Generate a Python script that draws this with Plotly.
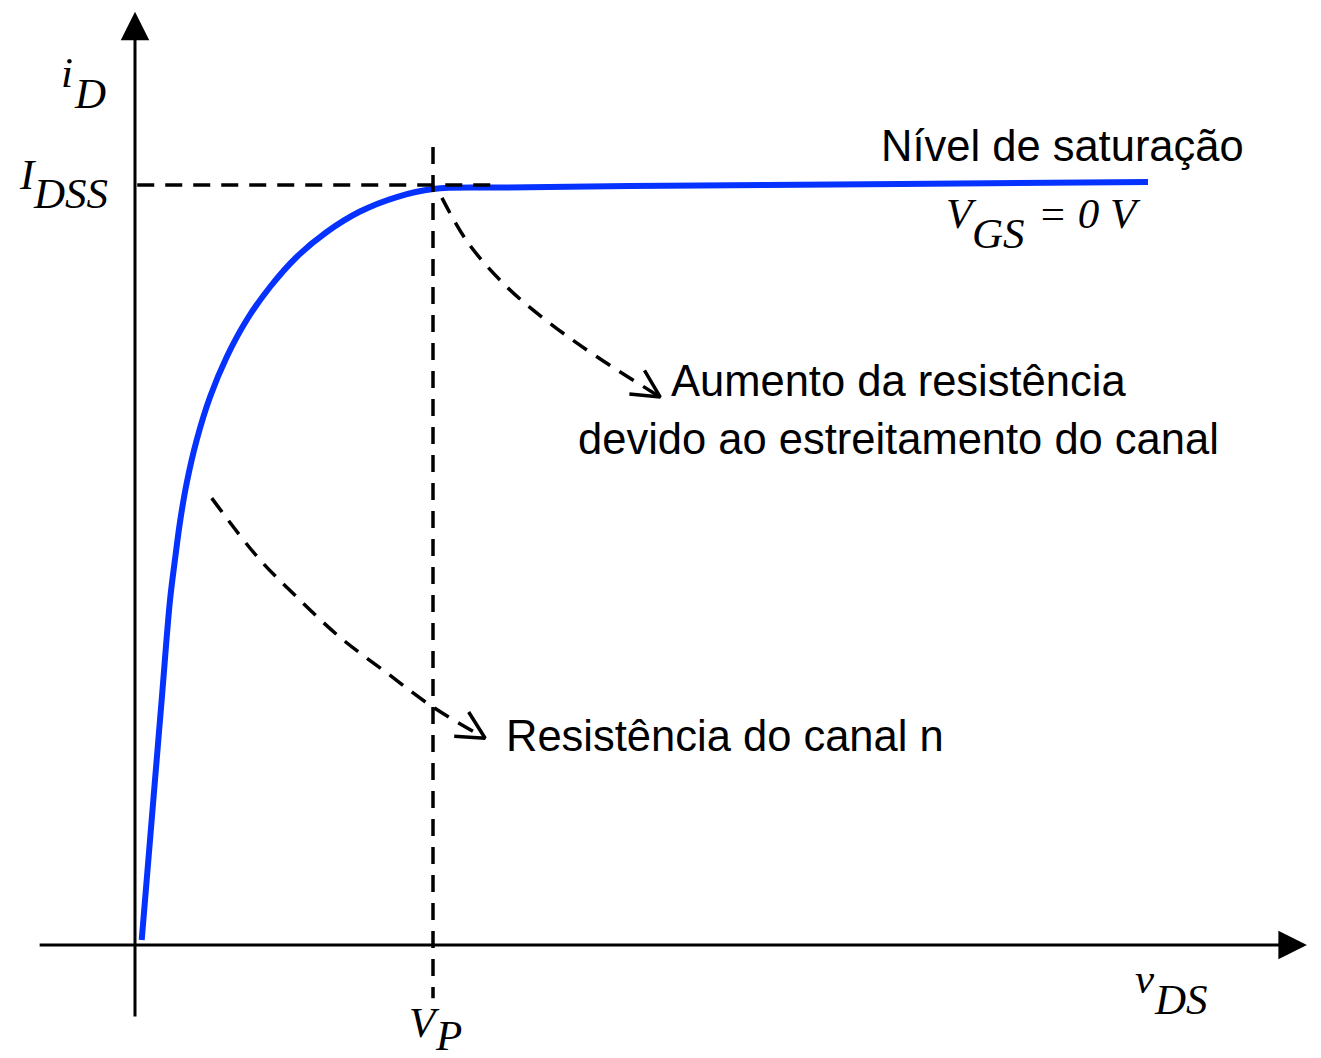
import math

import plotly.graph_objects as go

# JFET output curve i_D x v_DS for V_GS = 0 V
vds = [0.090, 0.246, 0.358, 0.470, 0.536, 0.604, 0.694, 0.828, 1.007, 1.231, 1.499, 1.812,
       2.170, 2.573, 3.020, 3.513, 4.004, 4.899, 7.584, 10.268, 13.597]
i_d = [0.066, 1.908, 3.224, 4.539, 5.066, 5.566, 6.079, 6.645, 7.211, 7.737, 8.224, 8.658,
       9.053, 9.382, 9.651, 9.842, 9.947, 9.967, 9.993, 10.013, 10.039]

VP = 4.0      # pinch-off voltage
IDSS = 10.0   # saturation current

# the two curved dashed pointers
ptr_sat_x = [4.12, 4.47, 4.99, 5.57, 6.20, 7.05]
ptr_sat_y = [9.83, 9.24, 8.66, 8.18, 7.74, 7.21]
ptr_ohm_x = [1.03, 1.64, 2.17, 2.75, 3.38, 4.00, 4.70]
ptr_ohm_y = [5.88, 5.11, 4.58, 4.05, 3.58, 3.13, 2.72]

# axis extents of the drawn arrows
x_axis_span = [-1.30, 15.73]
y_axis_span = [-0.96, 12.28]

W, H = 1321, 1058
ORIGIN = (135, 945)          # pixel position of (0, 0)
PX_X, PX_Y = 74.5, 76.0      # pixels per unit
x_range = [-ORIGIN[0] / PX_X, (W - ORIGIN[0]) / PX_X]
y_range = [(ORIGIN[1] - H) / PX_Y, ORIGIN[1] / PX_Y]

DASH = "17px,11px"
BLUE = "#0532ff"

fig = go.Figure()

fig.add_trace(go.Scatter(x=vds, y=i_d, mode="lines",
                         line=dict(color=BLUE, width=6, shape="spline", smoothing=1.0)))

# guide lines at I_DSS and V_P
fig.add_trace(go.Scatter(x=[0.03, 4.9], y=[IDSS, IDSS], mode="lines",
                         line=dict(color="black", width=3.5, dash=DASH)))
fig.add_trace(go.Scatter(x=[VP, VP], y=[10.5, -0.70], mode="lines",
                         line=dict(color="black", width=3.5, dash=DASH)))


def chevron(xs, ys, length=31, half=27):
    # open arrow head at the end of a path, built in pixel space
    x1, y1 = xs[-2] * PX_X, ys[-2] * PX_Y
    x2, y2 = xs[-1] * PX_X, ys[-1] * PX_Y
    ang = math.atan2(y2 - y1, x2 - x1)
    pts = []
    for s in (-1, 1):
        a = ang + math.pi + s * math.radians(half)
        pts.append((xs[-1] + length * math.cos(a) / PX_X, ys[-1] + length * math.sin(a) / PX_Y))
    return [pts[0][0], xs[-1], pts[1][0]], [pts[0][1], ys[-1], pts[1][1]]


for px_, py_ in ((ptr_sat_x, ptr_sat_y), (ptr_ohm_x, ptr_ohm_y)):
    fig.add_trace(go.Scatter(x=px_, y=py_, mode="lines",
                             line=dict(color="black", width=3.5, dash=DASH, shape="spline")))
    hx, hy = chevron(px_, py_)
    fig.add_trace(go.Scatter(x=hx, y=hy, mode="lines", line=dict(color="black", width=3.5)))

# axes with filled arrow heads
axis_arrow = dict(xref="x", yref="y", axref="x", ayref="y", text="", showarrow=True,
                  arrowhead=2, arrowsize=1.9, arrowwidth=3, arrowcolor="black")
fig.add_annotation(x=x_axis_span[1], y=0, ax=x_axis_span[0], ay=0, **axis_arrow)
fig.add_annotation(x=0, y=y_axis_span[1], ax=0, ay=y_axis_span[0], **axis_arrow)

serif = dict(family="Liberation Serif", size=43, color="black")
sans = dict(family="Liberation Sans", size=43.5, color="black")


def label(text, px, py, font, xanchor="left"):
    fig.add_annotation(x=px / W, y=1 - py / H, xref="paper", yref="paper", text=text,
                       showarrow=False, font=font, xanchor=xanchor, yanchor="middle",
                       borderpad=0)


# math-style labels (main symbol + full-size subscript)
label("<i>i</i>", 60, 73, serif)
label("<i>D</i>", 73, 93, serif)
label("<i>I</i>", 18, 174, serif)
label("<i>DSS</i>", 32, 194, serif)
label("<i>V</i>", 408, 1022, serif)
label("<i>P</i>", 434, 1035, serif)
label("<i>v</i>", 1134, 978, serif)
label("<i>DS</i>", 1153, 999, serif)
label("<i>V</i>", 945, 214, serif)
label("<i>GS</i>", 971, 233, serif)
label("<i>= 0 V</i>", 1037, 214, serif)

label("Nível de saturação", 1062, 146, sans, "center")
label("Aumento da resistência", 899, 381, sans, "center")
label("devido ao estreitamento do canal", 899, 439, sans, "center")
label("Resistência do canal n", 505, 736, sans)

fig.update_layout(
    width=W, height=H,
    margin=dict(l=0, r=0, t=0, b=0),
    paper_bgcolor="white", plot_bgcolor="white",
    showlegend=False, hovermode=False,
    xaxis=dict(range=x_range, visible=False, fixedrange=True),
    yaxis=dict(range=y_range, visible=False, fixedrange=True),
)

fig.write_html("out.html", config={"displayModeBar": False},
               post_script="document.body.style.margin = '0px';")
